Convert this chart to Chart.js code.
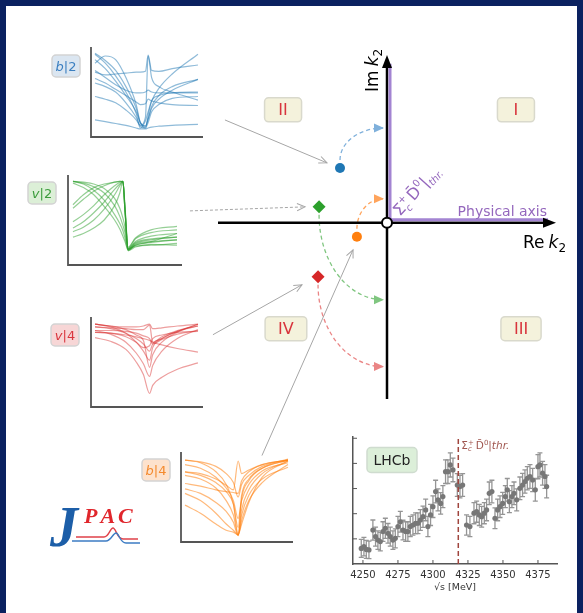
<!DOCTYPE html>
<html>
<head>
<meta charset="utf-8">
<script src="https://cdn.jsdelivr.net/npm/chart.js@4.4.1/dist/chart.umd.min.js"></script>
<style>
  html, body { margin: 0; padding: 0; }
  body { width: 583px; height: 613px; background: #0b2160; position: relative; overflow: hidden; }
  #panel { position: absolute; left: 6px; top: 6px; width: 571px; height: 607px; background: #fff; }
  canvas { position: absolute; }
</style>
</head>
<body>
<div id="panel"></div>
<canvas id="main" width="583" height="613" style="left:0;top:0;width:583px;height:613px"></canvas>
<canvas id="insB2" width="116" height="94" style="left:89px;top:45px;width:116px;height:94px"></canvas>
<canvas id="insV2" width="118" height="94" style="left:66px;top:173px;width:118px;height:94px"></canvas>
<canvas id="insV4" width="116" height="94" style="left:89px;top:315px;width:116px;height:94px"></canvas>
<canvas id="insB4" width="116" height="94" style="left:179px;top:450px;width:116px;height:94px"></canvas>
<canvas id="lhcb" width="240" height="175" style="left:335px;top:428px;width:240px;height:175px"></canvas>
<script>
// ---------- complex k2 plane ----------
const poleNames = ['b|2', 'v|2', 'b|4', 'v|4'];
const poleRe    = [-0.278, -0.402, -0.178, -0.408];
const poleIm    = [ 0.327,  0.095, -0.083, -0.321];
const poleStyle = ['circle', 'rectRot', 'circle', 'rectRot'];
const flowToIm  = [0.565, -0.458, 0.143, -0.857];      // where each pole moves on the Im axis
const ptrFromRe = [-0.959, -1.166, -0.740, -1.030];    // pointer lines from the inset panels
const ptrFromIm = [ 0.613,  0.071, -1.387, -0.667];
const ptrToRe   = [-0.355, -0.485, -0.201, -0.503];
const ptrToIm   = [ 0.357,  0.095, -0.161, -0.369];
const sheetNames = ['II', 'I', 'IV', 'III'];
const sheetRe    = [-0.615, 0.763, -0.598, 0.793];
const sheetIm    = [ 0.673, 0.673, -0.631, -0.631];
const reRange = [-1, 1];
const imRange = [-1.05, 1];
const physicalRe = [0, 0, 0.935];
const physicalIm = [0.93, 0, 0];

// ---------- line-shape insets ----------
const b2X = [0, 1, 2, 3, 4, 4.4, 4.9, 5.16, 5.5, 6.2, 7.5, 10];
const b2Curves = [
  [9.2, 8.2, 6.8, 5.0, 2.6, 1.0, 1.8, 2.8, 4.0, 5.4, 7.0, 9.2],
  [8.2, 9.0, 8.6, 6.6, 3.6, 1.6, 1.2, 2.0, 3.4, 4.6, 5.6, 6.4],
  [7.2, 6.9, 7.0, 7.1, 7.2, 7.2, 7.3, 9.1, 7.4, 7.3, 7.6, 8.0],
  [6.0, 5.6, 5.0, 3.8, 2.2, 1.3, 2.2, 9.0, 6.6, 5.6, 5.0, 4.1],
  [4.5, 4.2, 3.8, 3.0, 1.9, 1.2, 1.0, 1.6, 2.8, 3.6, 4.3, 4.5],
  [1.9, 1.7, 1.5, 1.3, 1.0, 0.9, 0.9, 1.0, 1.1, 1.2, 1.3, 1.4],
  [8.6, 7.6, 6.2, 4.6, 2.8, 1.6, 1.2, 2.0, 3.2, 4.2, 5.2, 6.4],
  [7.4, 6.6, 5.8, 5.2, 4.9, 4.9, 5.0, 5.2, 5.0, 4.9, 4.9, 4.9],
  [6.5, 6.0, 5.3, 4.6, 3.9, 3.6, 3.7, 4.2, 4.0, 3.8, 3.6, 3.5],
  [9.3, 8.5, 7.4, 5.6, 3.2, 1.6, 1.0, 2.4, 4.0, 4.6, 4.9, 5.0]
];
const v2X = [0, 1, 2, 3, 4, 4.5, 4.8, 5.0, 5.3, 6, 7.5, 10];
const v2Curves = [
  [3.1, 3.5, 4.1, 5.0, 6.6, 8.0, 9.3, 6.0, 1.7, 2.4, 2.8, 3.1],
  [3.7, 4.2, 5.0, 6.2, 7.8, 8.8, 9.3, 6.2, 1.8, 2.6, 3.2, 3.5],
  [4.1, 4.8, 5.8, 7.0, 8.4, 9.0, 9.3, 6.0, 1.6, 2.3, 2.6, 2.8],
  [4.8, 5.6, 6.6, 7.8, 8.8, 9.2, 9.3, 6.3, 1.9, 2.9, 3.6, 3.9],
  [6.3, 7.3, 8.2, 8.8, 9.2, 9.3, 9.3, 6.5, 2.0, 3.0, 3.9, 4.3],
  [6.7, 7.8, 8.6, 9.0, 9.2, 9.3, 9.2, 6.0, 1.8, 2.5, 2.9, 3.1],
  [9.3, 9.1, 8.7, 8.0, 6.6, 5.4, 4.4, 3.6, 1.7, 2.1, 2.2, 2.4],
  [9.3, 9.2, 9.0, 8.5, 7.4, 6.3, 5.2, 4.2, 1.8, 2.2, 2.5, 2.8],
  [9.3, 9.0, 8.3, 7.2, 5.6, 4.6, 3.8, 3.0, 1.6, 2.0, 2.3, 2.2],
  [9.1, 8.6, 7.8, 6.5, 5.0, 4.0, 3.2, 2.6, 1.7, 2.2, 2.6, 3.5]
];
const v4X = [0, 1.5, 3, 4, 4.7, 5.3, 5.6, 6.5, 8, 10];
const v4Curves = [
  [9.2, 9.0, 8.9, 8.9, 9.0, 9.2, 8.7, 8.8, 9.0, 9.2],
  [8.9, 8.8, 8.7, 8.6, 8.6, 9.1, 7.2, 7.8, 8.5, 9.0],
  [8.5, 8.5, 8.4, 8.2, 7.9, 7.6, 7.0, 7.5, 8.1, 8.5],
  [8.3, 8.2, 7.8, 7.2, 6.6, 6.8, 7.6, 8.0, 8.3, 8.4],
  [7.7, 7.3, 6.4, 5.0, 3.6, 1.5, 2.4, 3.3, 4.2, 4.9],
  [8.5, 8.1, 7.2, 6.0, 4.8, 3.4, 4.6, 6.2, 7.6, 8.6],
  [9.2, 8.9, 8.2, 7.2, 6.2, 5.2, 6.6, 7.6, 8.4, 9.2],
  [8.9, 8.7, 8.2, 7.6, 7.0, 6.2, 7.0, 7.6, 8.4, 9.0],
  [8.3, 8.2, 8.0, 7.8, 7.6, 7.4, 7.2, 6.9, 6.5, 6.1],
  [9.2, 9.0, 8.6, 8.0, 7.4, 4.4, 5.8, 7.2, 8.3, 9.2]
];
const b4X = [0, 1.5, 3, 4, 4.7, 5.16, 5.5, 6.2, 7.5, 10];
const b4Curves = [
  [9.1, 8.8, 7.8, 6.4, 4.2, 0.8, 4.8, 6.8, 8.2, 9.1],
  [7.8, 7.6, 7.0, 6.3, 5.8, 9.0, 7.6, 8.0, 8.6, 9.1],
  [7.4, 7.0, 6.0, 4.6, 3.0, 0.8, 3.6, 5.8, 7.6, 9.0],
  [6.5, 6.2, 5.8, 5.6, 5.5, 5.4, 6.8, 7.8, 8.6, 9.1],
  [5.9, 5.4, 4.4, 3.4, 2.2, 0.7, 3.0, 5.2, 7.0, 8.3],
  [5.4, 4.6, 3.2, 2.0, 1.3, 0.8, 2.4, 4.6, 6.6, 8.6],
  [4.1, 3.2, 2.0, 1.3, 1.1, 0.8, 2.0, 4.4, 7.2, 9.0],
  [9.1, 8.9, 8.4, 7.6, 6.6, 5.0, 6.4, 7.4, 8.4, 9.2],
  [8.6, 8.2, 7.2, 6.0, 4.6, 2.6, 4.6, 6.4, 7.9, 8.8],
  [7.8, 7.4, 6.6, 5.6, 4.2, 1.6, 5.2, 7.0, 8.2, 9.1]
];

// ---------- LHCb J/psi p spectrum ----------
const lhcbMass = [4248.8, 4250.7, 4252.4, 4254.3, 4257.1, 4259.0, 4260.7, 4262.4, 4264.3, 4266.0,
  4267.9, 4269.5, 4271.4, 4273.1, 4275.0, 4276.7, 4278.6, 4280.5, 4282.1, 4283.8,
  4285.7, 4287.6, 4289.3, 4291.0, 4292.9, 4294.8, 4296.4, 4298.3, 4300.0, 4301.9,
  4303.6, 4305.5, 4307.1, 4309.0, 4310.7, 4312.4, 4314.3, 4317.4, 4319.3, 4321.2,
  4324.0, 4326.4, 4329.3, 4331.2, 4333.1, 4334.8, 4336.7, 4338.3, 4340.2, 4342.1,
  4344.3, 4346.2, 4347.9, 4349.8, 4351.7, 4353.1, 4354.6, 4356.4, 4357.9, 4359.8,
  4362.1, 4364.0, 4365.7, 4367.4, 4369.3, 4371.2, 4373.1, 4375.0, 4376.4, 4378.3,
  4380.0, 4381.2];
const lhcbYield = [0.62, 0.69, 0.58, 0.56, 1.35, 1.09, 0.95, 0.89, 1.29, 1.42,
  1.22, 1.09, 0.95, 1.02, 1.49, 1.68, 1.35, 1.29, 1.29, 1.49,
  1.55, 1.62, 1.62, 1.75, 1.88, 2.15, 1.49, 1.95, 2.28, 2.88,
  2.55, 2.41, 2.68, 3.67, 3.67, 3.94, 3.74, 3.14, 3.08, 3.14,
  1.55, 1.49, 2.02, 2.08, 1.95, 1.88, 2.02, 2.15, 2.81, 2.88,
  1.82, 2.15, 2.28, 2.41, 2.68, 2.95, 2.48, 2.68, 2.81, 2.55,
  3.01, 3.14, 3.28, 3.41, 3.48, 3.34, 2.95, 3.87, 3.94, 3.61,
  3.48, 3.08];
const lhcbErr = [0.36, 0.37, 0.36, 0.35, 0.40, 0.38, 0.37, 0.37, 0.39, 0.40,
  0.39, 0.38, 0.37, 0.38, 0.40, 0.41, 0.39, 0.39, 0.39, 0.40,
  0.40, 0.41, 0.41, 0.41, 0.42, 0.43, 0.40, 0.42, 0.43, 0.45,
  0.44, 0.43, 0.44, 0.47, 0.47, 0.48, 0.47, 0.45, 0.45, 0.45,
  0.40, 0.40, 0.42, 0.42, 0.42, 0.41, 0.42, 0.43, 0.45, 0.45,
  0.41, 0.43, 0.43, 0.44, 0.44, 0.45, 0.44, 0.44, 0.45, 0.44,
  0.45, 0.46, 0.46, 0.46, 0.47, 0.46, 0.45, 0.48, 0.48, 0.47,
  0.47, 0.45];
const thresholdMass = 4318.1;
const massTicks = [4250, 4275, 4300, 4325, 4350, 4375];
const yieldTicks = [1, 2, 3, 4, 5];

const FONT = '"DejaVu Sans", sans-serif';
const C = {
  blue: '#1f77b4', green: '#2ca02c', orange: '#ff7f0e', red: '#d62728',
  blueL: '#7fb0db', greenL: '#80c680', orangeL: '#ffa45c', redL: '#ea8585',
  purple: '#9467bd', purpleLine: '#a384d2', sheet: '#d8343c'
};
const poleColors = [C.blue, C.green, C.orange, C.red];
const flowColors = [C.blueL, C.greenL, C.orangeL, C.redL];

// Draws a run of text pieces (font, vertical shift, advance) from (x, y)
function drawRich(ctx, x, y, parts, color) {
  ctx.save();
  ctx.fillStyle = color;
  ctx.textBaseline = 'alphabetic';
  ctx.textAlign = 'left';
  let cx = x;
  for (const p of parts) {
    ctx.font = p.f;
    ctx.fillText(p.t, cx, y + (p.dy || 0));
    if (p.adv !== false) cx += ctx.measureText(p.t).width + (p.gap || 0);
  }
  ctx.restore();
}
function roundBox(ctx, cx, cy, w, h, r, fill, stroke) {
  ctx.save();
  ctx.beginPath();
  ctx.roundRect(cx - w / 2, cy - h / 2, w, h, r);
  ctx.fillStyle = fill; ctx.fill();
  ctx.lineWidth = 1.5; ctx.strokeStyle = stroke; ctx.stroke();
  ctx.restore();
}
function solidHead(ctx, x, y, ang, len, half, color) {
  ctx.save();
  ctx.translate(x, y); ctx.rotate(ang);
  ctx.beginPath(); ctx.moveTo(0, 0); ctx.lineTo(-len, -half); ctx.lineTo(-len, half); ctx.closePath();
  ctx.fillStyle = color; ctx.fill();
  ctx.restore();
}
function openHead(ctx, x, y, ang, len, color) {
  ctx.save();
  ctx.translate(x, y); ctx.rotate(ang);
  ctx.beginPath();
  ctx.moveTo(-len, -len * 0.45); ctx.lineTo(0, 0); ctx.lineTo(-len, len * 0.45);
  ctx.strokeStyle = color; ctx.lineWidth = 1; ctx.setLineDash([]); ctx.stroke();
  ctx.restore();
}

// ---------- main plane decorations ----------
const planeDecor = {
  id: 'planeDecor',
  beforeDatasetsDraw(chart) {
    const { ctx, scales: { x, y } } = chart;
    // sheet labels
    sheetNames.forEach((n, i) => {
      const px = x.getPixelForValue(sheetRe[i]), py = y.getPixelForValue(sheetIm[i]);
      ctx.save();
      ctx.font = '16px ' + FONT;
      const w = ctx.measureText(n).width;
      roundBox(ctx, px, py, Math.max(37, w + 26), 24, 4, '#f4f2dc', '#d9d9cc');
      ctx.fillStyle = C.sheet; ctx.textAlign = 'center'; ctx.textBaseline = 'middle';
      ctx.fillText(n, px, py + 1);
      ctx.restore();
    });
    // pointer lines from the insets
    ptrFromRe.forEach((_, i) => {
      const x0 = x.getPixelForValue(ptrFromRe[i]), y0 = y.getPixelForValue(ptrFromIm[i]);
      const x1 = x.getPixelForValue(ptrToRe[i]), y1 = y.getPixelForValue(ptrToIm[i]);
      ctx.save();
      ctx.strokeStyle = '#a6a6a6'; ctx.lineWidth = 1;
      ctx.setLineDash(i === 1 ? [3, 2] : []);
      ctx.beginPath(); ctx.moveTo(x0, y0); ctx.lineTo(x1, y1); ctx.stroke();
      ctx.restore();
      openHead(ctx, x1, y1, Math.atan2(y1 - y0, x1 - x0), 8, '#a6a6a6');
    });
    // dashed flows from each pole to the imaginary axis
    const axisX = x.getPixelForValue(0) - 4;
    poleRe.forEach((_, i) => {
      const px = x.getPixelForValue(poleRe[i]), py = y.getPixelForValue(poleIm[i]);
      const ty = y.getPixelForValue(flowToIm[i]);
      const up = ty < py;
      const sy = py + (up ? -8 : 8);
      const rx = axisX - px, ry = Math.abs(ty - sy);
      ctx.save();
      ctx.strokeStyle = flowColors[i]; ctx.lineWidth = 1.3; ctx.setLineDash([4, 3]);
      ctx.beginPath();
      ctx.ellipse(axisX, sy, rx, ry, 0, Math.PI, up ? Math.PI * 1.5 : Math.PI * 0.5, !up);
      ctx.stroke();
      ctx.restore();
      solidHead(ctx, axisX + 1, ty, 0, 10, 4.5, flowColors[i]);
    });
    // labels next to the inset panels
    const tags = [
      { x: 66, y: 66, w: 28, fill: '#dbe6f1', col: '#3b7fc0', a: 'b', b: '|2' },
      { x: 42, y: 193, w: 28, fill: '#dcefd7', col: '#3c9c3c', a: 'v', b: '|2' },
      { x: 65, y: 335, w: 28, fill: '#f7d6d6', col: '#d9363e', a: 'v', b: '|4' },
      { x: 156, y: 470, w: 28, fill: '#fde2cd', col: '#f48a2e', a: 'b', b: '|4' }
    ];
    tags.forEach(t => {
      roundBox(ctx, t.x, t.y, t.w, 22, 4, t.fill, '#d3d3d3');
      ctx.save();
      ctx.font = 'italic 13px ' + FONT;
      const wa = ctx.measureText(t.a).width;
      ctx.font = '13px ' + FONT;
      const wb = ctx.measureText(t.b).width;
      ctx.restore();
      drawRich(ctx, t.x - (wa + wb) / 2, t.y + 5, [
        { t: t.a, f: 'italic 13px ' + FONT }, { t: t.b, f: '13px ' + FONT }], t.col);
    });
    // JPAC logo
    ctx.save();
    ctx.fillStyle = '#1c5ea8';
    ctx.font = 'bold italic 56px "Liberation Serif"';
    ctx.fillText('J', 50, 546);
    ctx.fillStyle = '#e0262c';
    ctx.font = 'bold italic 22px "Liberation Serif"';
    let lx = 84;
    for (const ch of 'PAC') { ctx.fillText(ch, lx, 523); lx += ctx.measureText(ch).width + 3; }
    ctx.lineWidth = 1.4;
    ctx.strokeStyle = '#e0424a';
    ctx.beginPath(); ctx.moveTo(76, 537); ctx.lineTo(104, 537);
    ctx.bezierCurveTo(109, 537, 110, 528, 113, 528);
    ctx.bezierCurveTo(116, 528, 117, 539, 123, 539); ctx.lineTo(138, 539); ctx.stroke();
    ctx.strokeStyle = '#3d7cc4';
    ctx.beginPath(); ctx.moveTo(72, 541); ctx.lineTo(106, 541);
    ctx.bezierCurveTo(111, 541, 113, 533, 116, 533);
    ctx.bezierCurveTo(119, 533, 120, 543, 126, 543); ctx.lineTo(140, 543); ctx.stroke();
    ctx.restore();
  },
  afterDatasetsDraw(chart) {
    const { ctx, scales: { x, y } } = chart;
    const ox = x.getPixelForValue(0), oy = y.getPixelForValue(0);
    solidHead(ctx, x.getPixelForValue(reRange[1]), oy, 0, 13, 5, '#000');
    solidHead(ctx, ox, y.getPixelForValue(imRange[1]), -Math.PI / 2, 13, 5, '#000');
    // axis titles
    drawRich(ctx, x.getPixelForValue(0.805), oy + 25, [
      { t: 'Re', f: '17px ' + FONT, gap: 4 }, { t: 'k', f: 'italic 17px ' + FONT },
      { t: '2', f: '12px ' + FONT, dy: 4 }], '#000');
    ctx.save();
    ctx.translate(ox - 9, y.getPixelForValue(0.78));
    ctx.rotate(-Math.PI / 2);
    drawRich(ctx, 0, 0, [
      { t: 'Im', f: '17px ' + FONT, gap: 4 }, { t: 'k', f: 'italic 17px ' + FONT },
      { t: '2', f: '12px ' + FONT, dy: 4 }], '#000');
    ctx.restore();
    // physical axis labels
    ctx.save();
    ctx.font = '14px ' + FONT; ctx.fillStyle = C.purple; ctx.textAlign = 'right';
    ctx.fillText('Physical axis', x.getPixelForValue(0.947), oy - 7);
    ctx.restore();
    ctx.save();
    ctx.translate(ox + 13, oy - 6);
    ctx.rotate(-48 * Math.PI / 180);
    drawRich(ctx, 0, 0, [
      { t: 'Σ', f: '16px ' + FONT }, { t: 'c', f: 'italic 10px ' + FONT, dy: 4, adv: false },
      { t: '+', f: '10px ' + FONT, dy: -7, gap: 2 },
      { t: 'D\u0304', f: '16px ' + FONT }, { t: '0', f: '10px ' + FONT, dy: -7 },
      { t: '|', f: '16px ' + FONT }, { t: 'thr.', f: 'italic 10px ' + FONT, dy: 4 }], C.purple);
    ctx.restore();
  }
};
const physicalShift = {
  id: 'physicalShift',
  beforeDatasetDraw(chart, args) {
    if (args.meta.label === 'Physical axis') { chart.ctx.save(); chart.ctx.translate(3, -3); }
  },
  afterDatasetDraw(chart, args) {
    if (args.meta.label === 'Physical axis') chart.ctx.restore();
  }
};

const poleSets = poleNames.map((n, i) => ({
  label: n, data: [{ x: poleRe[i], y: poleIm[i] }],
  pointStyle: poleStyle[i], pointRadius: poleStyle[i] === 'circle' ? 5 : 6.5,
  backgroundColor: poleColors[i], borderColor: poleColors[i], borderWidth: 0, clip: false
}));

new Chart(document.getElementById('main'), {
  type: 'scatter',
  data: {
    datasets: [
      { label: 'threshold', data: [{ x: 0, y: 0 }], pointRadius: 5, pointStyle: 'circle',
        backgroundColor: '#fff', borderColor: '#000', borderWidth: 2, clip: false },
      ...poleSets,
      { label: 'Physical axis', type: 'line', data: physicalRe.map((v, i) => ({ x: v, y: physicalIm[i] })),
        borderColor: C.purpleLine, borderWidth: 3, pointRadius: 0, clip: false, tension: 0 },
      { label: 'Re k2', type: 'line', data: [{ x: reRange[0], y: 0 }, { x: reRange[1] - 0.03, y: 0 }],
        borderColor: '#000', borderWidth: 2.5, pointRadius: 0, clip: false },
      { label: 'Im k2', type: 'line', data: [{ x: 0, y: imRange[0] }, { x: 0, y: imRange[1] - 0.03 }],
        borderColor: '#000', borderWidth: 2.5, pointRadius: 0, clip: false }
    ]
  },
  options: {
    responsive: false, animation: false, devicePixelRatio: 1, events: [],
    layout: { padding: { left: 218, right: 27, top: 55, bottom: 214 } },
    plugins: { legend: { display: false }, tooltip: { enabled: false } },
    scales: {
      x: { type: 'linear', min: reRange[0], max: reRange[1], display: false },
      y: { type: 'linear', min: imRange[0], max: imRange[1], display: false }
    }
  },
  plugins: [physicalShift, planeDecor]
});

// ---------- insets ----------
const spines = {
  id: 'spines',
  afterDraw(chart) {
    const { ctx, chartArea: a } = chart;
    ctx.save();
    ctx.strokeStyle = '#555'; ctx.lineWidth = 1.8; ctx.lineCap = 'butt';
    ctx.beginPath();
    ctx.moveTo(a.left, a.top); ctx.lineTo(a.left, a.bottom); ctx.lineTo(a.right, a.bottom);
    ctx.stroke();
    ctx.restore();
  }
};
function inset(id, xs, curves, color, xMin, xMax) {
  new Chart(document.getElementById(id), {
    type: 'line',
    data: {
      datasets: curves.map((c, k) => ({
        label: id + k, data: xs.map((xv, i) => ({ x: xv, y: c[i] })),
        borderColor: color, borderWidth: 1.2, pointRadius: 0,
        cubicInterpolationMode: 'monotone', clip: false
      }))
    },
    options: {
      responsive: false, animation: false, devicePixelRatio: 1, events: [],
      layout: { padding: 2 },
      plugins: { legend: { display: false }, tooltip: { enabled: false } },
      scales: {
        x: { type: 'linear', min: xMin, max: xMax, display: false },
        y: { type: 'linear', min: 0, max: 10, display: false }
      }
    },
    plugins: [spines]
  });
}
inset('insB2', b2X, b2Curves, 'rgba(31,119,180,0.5)', -0.39, 10.49);
inset('insV2', v2X, v2Curves, 'rgba(44,160,44,0.5)', -0.48, 10.48);
inset('insV4', v4X, v4Curves, 'rgba(214,39,40,0.45)', -0.39, 10.49);
inset('insB4', b4X, b4Curves, 'rgba(255,127,14,0.55)', -0.39, 10.49);

// ---------- LHCb panel ----------
const lhcbDecor = {
  id: 'lhcbDecor',
  beforeDatasetsDraw(chart) {
    const { ctx, scales: { x, y } } = chart;
    const ds = chart.data.datasets[1];
    ctx.save();
    ctx.strokeStyle = '#959595'; ctx.lineWidth = 1.3;
    ds.data.forEach((p, i) => {
      const px = x.getPixelForValue(p.x);
      const lo = y.getPixelForValue(p.y - lhcbErr[i]), hi = y.getPixelForValue(p.y + lhcbErr[i]);
      ctx.beginPath();
      ctx.moveTo(px, lo); ctx.lineTo(px, hi);
      ctx.moveTo(px - 2.5, lo); ctx.lineTo(px + 2.5, lo);
      ctx.moveTo(px - 2.5, hi); ctx.lineTo(px + 2.5, hi);
      ctx.stroke();
    });
    ctx.restore();
  },
  afterDraw(chart) {
    const { ctx, chartArea: a, scales: { x, y } } = chart;
    ctx.save();
    ctx.strokeStyle = '#555'; ctx.lineWidth = 1;
    ctx.beginPath();
    massTicks.forEach(v => { const px = x.getPixelForValue(v); ctx.moveTo(px, a.bottom); ctx.lineTo(px, a.bottom - 4); });
    yieldTicks.forEach(v => { const py = y.getPixelForValue(v); ctx.moveTo(a.left, py); ctx.lineTo(a.left + 4, py); });
    ctx.stroke();
    ctx.restore();
    roundBox(ctx, a.left + 39, a.top + 23, 50, 25, 4, '#dcefd9', '#cfdccf');
    ctx.save();
    ctx.font = '14px ' + FONT; ctx.fillStyle = '#222'; ctx.textAlign = 'center'; ctx.textBaseline = 'middle';
    ctx.fillText('LHCb', a.left + 39, a.top + 24);
    ctx.restore();
    drawRich(ctx, x.getPixelForValue(thresholdMass) + 3, a.top + 12, [
      { t: 'Σ', f: '10.5px ' + FONT }, { t: 'c', f: 'italic 7px ' + FONT, dy: 2, adv: false },
      { t: '+', f: '7px ' + FONT, dy: -4, gap: 2 },
      { t: 'D\u0304', f: '10.5px ' + FONT }, { t: '0', f: '7px ' + FONT, dy: -4 },
      { t: '|thr.', f: 'italic 10.5px ' + FONT }], '#a0564f');
  }
};

new Chart(document.getElementById('lhcb'), {
  type: 'scatter',
  data: {
    datasets: [
      { label: 'threshold', type: 'line', data: [{ x: thresholdMass, y: 0 }, { x: thresholdMass, y: 5.05 }],
        borderColor: '#a0453e', borderWidth: 1.5, borderDash: [5, 3], pointRadius: 0 },
      { label: 'LHCb', data: lhcbMass.map((m, i) => ({ x: m, y: lhcbYield[i] })),
        pointRadius: 2.6, backgroundColor: '#777', borderWidth: 0 }
    ]
  },
  options: {
    responsive: false, animation: false, devicePixelRatio: 1, events: [],
    layout: { padding: { left: 0, right: 18, top: 9, bottom: 0 } },
    plugins: { legend: { display: false }, tooltip: { enabled: false } },
    scales: {
      x: {
        type: 'linear', min: 4242.9, max: 4388.6, bounds: 'data',
        afterBuildTicks: s => { s.ticks = massTicks.map(v => ({ value: v })); },
        afterFit: s => { s.height = 39; },
        grid: { display: false, drawTicks: false },
        border: { display: true, color: '#555', width: 1.5 },
        ticks: { font: { family: 'DejaVu Sans', size: 10 }, color: '#333', padding: 5,
                 maxRotation: 0, autoSkip: false, callback: v => String(v) },
        title: { display: true, text: '√s [MeV]', font: { family: 'DejaVu Sans', size: 9.5 },
                 color: '#333', padding: { top: 0, bottom: 10 } }
      },
      y: {
        type: 'linear', min: 0, max: 5.05, bounds: 'data',
        afterBuildTicks: s => { s.ticks = yieldTicks.map(v => ({ value: v })); },
        afterFit: s => { s.width = 18; },
        grid: { display: false, drawTicks: false },
        border: { display: true, color: '#555', width: 1.5 },
        ticks: { display: false }
      }
    }
  },
  plugins: [lhcbDecor]
});
</script>
</body>
</html>
